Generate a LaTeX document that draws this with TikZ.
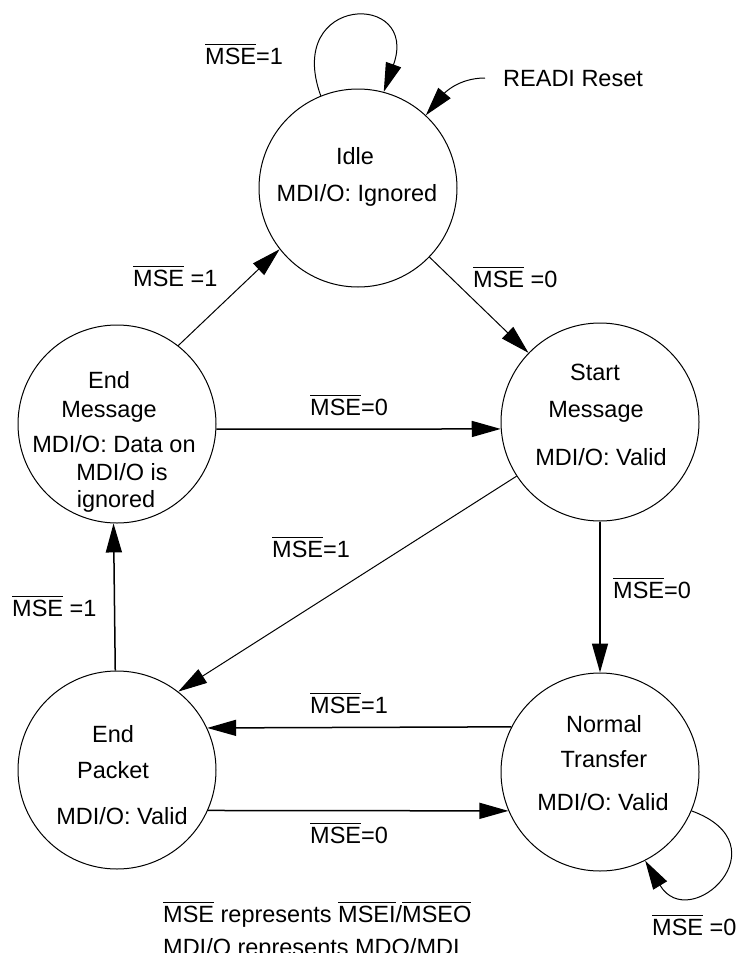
\documentclass[tikz,border=0pt]{standalone}
\usepackage{fontspec}
\setmainfont{Liberation Sans}
\usetikzlibrary{arrows.meta}
\newcommand\ovl[1]{\leavevmode\vbox{\hrule height 1.3pt\kern 2.5pt\hbox{#1}}}
\tikzset{
  state/.style={circle, draw, line width=1pt, minimum size=198pt, inner sep=0pt},
  txt/.style={inner sep=0pt, font=\fontsize{23.5}{28}\selectfont},
  lbl/.style={txt, anchor=base west},
  stxt/.style={txt, anchor=base},
  arr/.style={-{Triangle[length=29pt,width=16pt]}, line width=1pt},
  harr/.style={arr, line width=1.5pt}
}
\begin{document}
\begin{tikzpicture}[x=1pt,y=-1pt]
\useasboundingbox (0,0) rectangle (737,953);
% states
\node[state] (idle) at (358,188) {};
\node[state] (em) at (117,424) {};
\node[state] (sm) at (600,422) {};
\node[state] (ep) at (117,770) {};
\node[state] (nt) at (600,772) {};
% state texts
\node[stxt] (idle1) at (355,164) {Idle};
\node[stxt] (idle2) at (357,201) {MDI/O: Ignored};
\node[stxt] (sm1) at (595,380) {Start};
\node[stxt] (sm2) at (596,417) {Message};
\node[stxt] (sm3) at (601,465) {MDI/O: Valid};
\node[stxt] (em1) at (109,388) {End};
\node[stxt] (em2) at (109,417) {Message};
\node[stxt] (em3) at (114,452) {MDI/O: Data on};
\node[stxt] (em4) at (122,480) {MDI/O is};
\node[stxt] (em5) at (116,507) {ignored};
\node[stxt] (ep1) at (113,742) {End};
\node[stxt] (ep2) at (113,778) {Packet};
\node[stxt] (ep3) at (122,824) {MDI/O: Valid};
\node[stxt] (nt1) at (604,732) {Normal};
\node[stxt] (nt2) at (604,767) {Transfer};
\node[stxt] (nt3) at (603,810) {MDI/O: Valid};
% labels
\node[lbl] (l1) at (205,64) {\ovl{MSE}=1};
\node[lbl] (l2) at (503,86) {READI Reset};
\node[lbl] (l3) at (133,286) {\ovl{MSE} =1};
\node[lbl] (l4) at (473,287) {\ovl{MSE} =0};
\node[lbl] (l5) at (310,415) {\ovl{MSE}=0};
\node[lbl] (l6) at (272,557) {\ovl{MSE}=1};
\node[lbl] (l7) at (613,598) {\ovl{MSE}=0};
\node[lbl] (l8) at (12,616) {\ovl{MSE} =1};
\node[lbl] (l9) at (310,713) {\ovl{MSE}=1};
\node[lbl] (l10) at (310,843) {\ovl{MSE}=0};
\node[lbl] (l11) at (652,935) {\ovl{MSE} =0};
\node[lbl] (c1) at (163,922) {\ovl{MSE} represents \ovl{MSEI}/\ovl{MSEO}};
\node[lbl] (c2) at (163,955) {MDI/O represents MDO/MDI};
% connectors
\coordinate (rst) at (485,78);
\draw[arr] (rst) to[out=180,in=50] (idle.47);
\draw[arr] (idle.112) .. controls (284,-6) and (420,-9) .. (idle.75);
\draw[arr] (em.52) -- (idle.218);
\draw[arr] (idle) -- (sm);
\draw[harr] (em.-3.5) -- (sm.184.6);
\draw[harr] (sm.south) -- (nt.north);
\draw[arr] (sm.213.4) -- (ep.52.7);
\draw[harr] (nt.153.6) -- (ep.25.1);
\draw[harr] (ep.-24.5) -- (nt.203.2);
\draw[harr] (ep.91.7) -- (em.268.3);
\draw[arr] (nt.-23) .. controls (785,845) and (690,935) .. (nt.-63);
\end{tikzpicture}
\end{document}
